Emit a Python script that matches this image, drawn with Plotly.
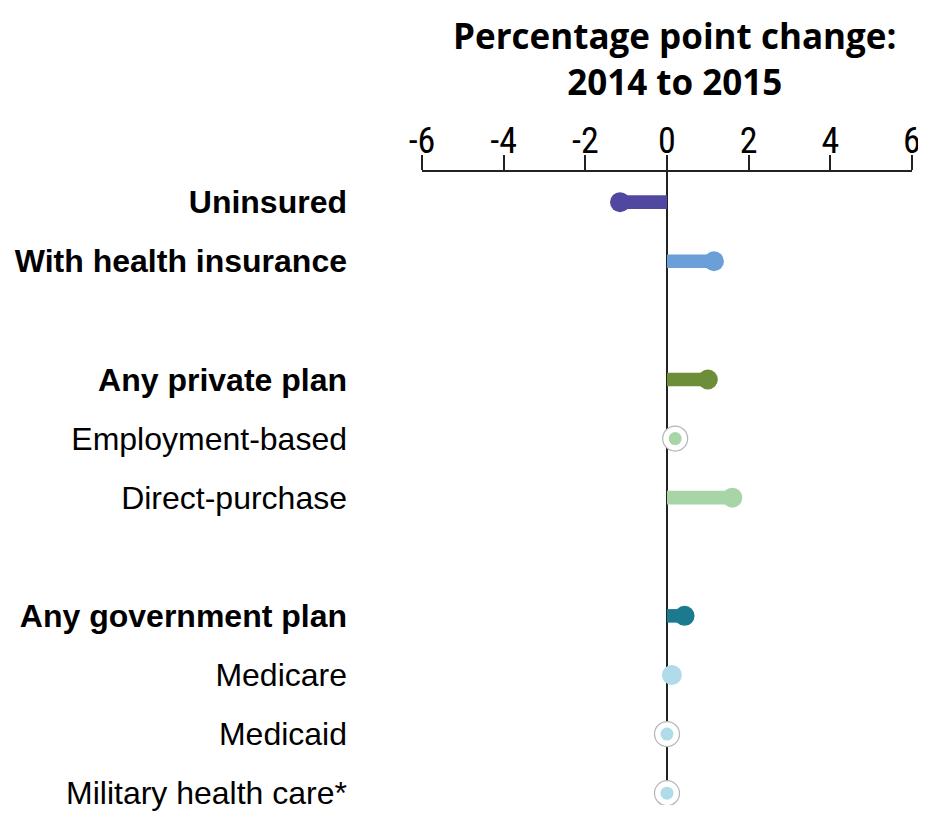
import plotly.graph_objects as go

# Rows (top to bottom); blank rows are spacers between groups
labels = ["Uninsured", "With health insurance", " ",
          "Any private plan", "Employment-based", "Direct-purchase", "  ",
          "Any government plan", "Medicare", "Medicaid", "Military health care*"]
bold = [True, True, False, True, False, False, False, True, False, False, False]
changes = [-1.15, 1.15, None, 1.0, 0.2, 1.6, None, 0.43, 0.12, 0.0, 0.0]
significant = [True, True, None, True, False, True, None, True, True, False, False]
colors = ["#5047a0", "#6a9fd8", None, "#6d8e38", "#a8d5a8", "#a8d5a8", None,
          "#1b7a8e", "#b0dcea", "#b0dcea", "#b0dcea"]

x_ticks = [-6, -4, -2, 0, 2, 4, 6]
title_lines = ["Percentage point change:", "2014 to 2015"]

rows = [i for i, v in enumerate(changes) if v is not None]

fig = go.Figure()

# bars from zero to the value
fig.add_trace(go.Bar(
    y=[labels[i] for i in rows],
    x=[changes[i] for i in rows],
    orientation="h",
    width=0.23,
    marker=dict(color=[colors[i] for i in rows], line=dict(width=0), opacity=1),
    hoverinfo="skip",
    showlegend=False,
))

# ring behind non-significant dots
ring = [i for i in rows if not significant[i]]
fig.add_trace(go.Scatter(
    y=[labels[i] for i in ring],
    x=[changes[i] for i in ring],
    mode="markers",
    marker=dict(size=25, color="white", opacity=1,
                line=dict(color="#b5b5b5", width=1.2)),
    hoverinfo="skip",
    showlegend=False,
))

# end dots
fig.add_trace(go.Scatter(
    y=[labels[i] for i in rows],
    x=[changes[i] for i in rows],
    mode="markers",
    marker=dict(
        size=[20 if significant[i] else 13 for i in rows],
        color=[colors[i] for i in rows],
        opacity=1,
        line=dict(width=0),
    ),
    showlegend=False,
))

ticktext = [("<b>%s</b>" % l) if b else l for l, b in zip(labels, bold)]

# page body has an 8px margin, so the figure is a little smaller than the window
fig.update_layout(
    width=918,
    height=807,
    margin=dict(l=414, r=14, t=164, b=10),
    paper_bgcolor="white",
    plot_bgcolor="white",
    font=dict(family="Liberation Sans, Arial, sans-serif", color="black"),
    xaxis=dict(
        range=[-6, 6],
        side="top",
        tickvals=x_ticks,
        ticktext=[str(t) for t in x_ticks],
        ticks="outside",
        ticklen=15,
        tickwidth=2,
        tickcolor="#222",
        showline=True,
        linecolor="#222",
        linewidth=2,
        showgrid=False,
        zeroline=True,
        zerolinecolor="#222",
        zerolinewidth=2,
        automargin=False,
        ticklabelstandoff=-12,
        tickfont=dict(family="Liberation Sans Narrow, Roboto Condensed, Liberation Sans", size=36, color="black"),
        fixedrange=True,
    ),
    yaxis=dict(
        type="category",
        categoryorder="array",
        categoryarray=labels,
        tickvals=labels,
        ticktext=ticktext,
        range=[10.2, -0.51],
        showgrid=False,
        zeroline=False,
        showline=False,
        ticks="",
        automargin=False,
        ticklabelstandoff=74,
        tickfont=dict(family="Liberation Sans, Arial, sans-serif", size=32, color="black"),
        fixedrange=True,
    ),
    annotations=[dict(
        text="<b>%s</b>" % "<br>".join(title_lines),
        xref="paper", yref="paper",
        x=0.515, y=1.0, yshift=162,
        xanchor="center", yanchor="top",
        showarrow=False,
        font=dict(family="Open Sans, sans-serif", size=35, color="black"),
    )],
)

fig.write_html("out.html")
